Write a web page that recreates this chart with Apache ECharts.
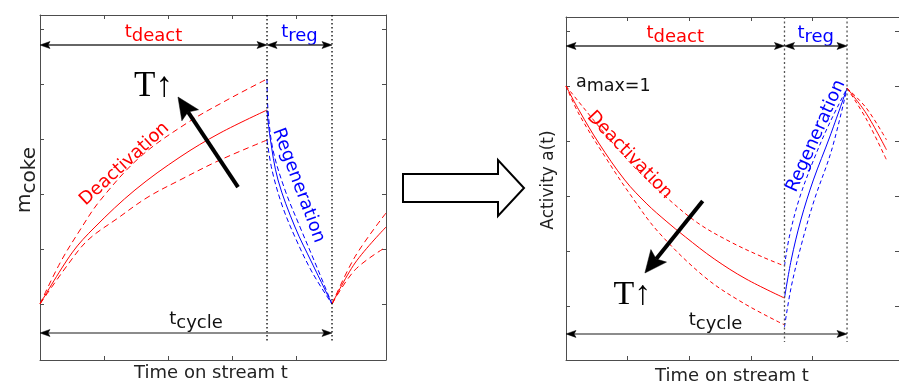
<!DOCTYPE html>
<html><head><meta charset="utf-8">
<script src="https://cdn.jsdelivr.net/npm/echarts@6/dist/echarts.min.js"></script>
<style>html,body{margin:0;padding:0;background:#fff}#c{width:899px;height:385px}</style>
</head><body><div id="c"></div>
<script>
// ---------------- data (time on stream t, value) ----------------
const tDeact = 3.547;   // end of deactivation
const tCycle = 4.5625;  // end of cycle
const xTicks = [1, 2, 3, 4];
const cokeTicks = [0, 1, 2, 3, 4, 5];
const actTicks = [0, 0.25, 0.5, 0.75, 1, 1.25];

// left panel: coke mass
const cokeDeactMid  = [[0,0],[0.5,0.93],[0.859,1.4],[1.484,2.073],[2.188,2.673],[2.813,3.109],[3.547,3.527]];
const cokeDeactHigh = [[0,0],[0.3125,0.745],[0.625,1.345],[0.9375,1.88],[1.5625,2.673],[2.297,3.291],[2.922,3.709],[3.547,4.091]];
const cokeDeactLow  = [[0,0],[0.4375,0.72],[0.75,1.164],[1.219,1.564],[1.6875,1.945],[2.1875,2.255],[2.8125,2.618],[3.547,2.982]];
const cokeRegMid    = [[3.547,3.527],[3.594,3.036],[3.719,2.255],[3.984,1.4],[4.25,0.745],[4.5625,0]];
const cokeRegHigh   = [[3.547,4.091],[3.5625,3.527],[3.641,2.8],[3.828,2.073],[4.0625,1.4],[4.3125,0.709],[4.5625,0]];
const cokeRegLow    = [[3.547,2.982],[3.625,2.436],[3.781,1.8],[3.984,1.218],[4.25,0.582],[4.5625,0]];
const cokeNextMid   = [[4.5625,0],[4.922,0.745],[5.406,1.4]];
const cokeNextHigh  = [[4.5625,0],[4.922,0.86],[5.406,1.655]];
const cokeNextLow   = [[4.5625,0],[4.922,0.62],[5.406,1.036]];

// right panel: activity
const actDeactMid  = [[0,1],[0.219,0.886],[0.531,0.741],[0.953,0.573],[1.313,0.464],[1.625,0.386],[1.938,0.314],[2.406,0.214],[2.922,0.123],[3.547,0.036]];
const actDeactHigh = [[0,1],[0.688,0.764],[1.156,0.618],[1.625,0.495],[2.141,0.377],[2.672,0.291],[3.188,0.223],[3.547,0.182]];
const actDeactLow  = [[0,1],[0.219,0.868],[0.688,0.655],[1.047,0.505],[1.5,0.336],[2.25,0.132],[2.875,0.014],[3.547,-0.086]];
const actRegMid    = [[3.547,0.036],[3.656,0.209],[3.8125,0.391],[4.016,0.573],[4.281,0.768],[4.5625,0.99]];
const actRegHigh   = [[3.547,0.182],[3.625,0.314],[3.781,0.482],[4.0,0.65],[4.25,0.814],[4.5625,0.99]];
const actRegLow    = [[3.547,-0.095],[3.656,0.086],[3.828,0.286],[4.031,0.482],[4.3125,0.709],[4.5625,0.99]];
const actNextMid   = [[4.5625,0.99],[4.875,0.875],[5.203,0.71]];
const actNextHigh  = [[4.5625,0.99],[4.875,0.9],[5.203,0.755]];
const actNextLow   = [[4.5625,0.99],[4.875,0.85],[5.203,0.664]];

// ---------------- chart ----------------
const RED = '#ff0000', BLUE = '#0000ff', AX = '#4d4d4d';
const FONT = 'DejaVu Sans';
const SERIF = 'Liberation Serif';
const chart = echarts.init(document.getElementById('c'), null, {renderer: 'canvas', width: 899, height: 385});

function xAx(g, pos) {
  return {type: 'value', gridIndex: g, position: pos, min: 0, max: 5.406,
    axisLine: {show: true, onZero: false, lineStyle: {color: AX, width: 1}},
    axisTick: {show: true, inside: true, length: 4, customValues: xTicks, lineStyle: {color: AX}},
    axisLabel: {show: false}, splitLine: {show: false}};
}
function yAx(g, pos, min, max, ticks) {
  return {type: 'value', gridIndex: g, position: pos, min: min, max: max,
    axisLine: {show: true, onZero: false, lineStyle: {color: AX, width: 1}},
    axisTick: {show: true, inside: true, length: 4, customValues: ticks, lineStyle: {color: AX}},
    axisLabel: {show: false}, splitLine: {show: false}};
}
function S(g, data, color, type, w) {
  return {type: 'line', xAxisIndex: g * 2, yAxisIndex: g * 2, data: data, symbol: 'none', showSymbol: false,
    smooth: 0.35, silent: true, animation: false,
    lineStyle: {color: color, width: w || 1, type: type}};
}
const dL = [6, 4], dR = [4, 3], dB = [5, 3];
chart.setOption({
  animation: false,
  backgroundColor: '#fff',
  grid: [
    {left: 40, top: 15, width: 346, height: 345, containLabel: false},
    {left: 566, top: 17, width: 346, height: 343, containLabel: false}
  ],
  xAxis: [xAx(0, 'bottom'), xAx(0, 'top'), xAx(1, 'bottom'), xAx(1, 'top')],
  yAxis: [yAx(0, 'left', -1.018, 5.255, cokeTicks), yAx(0, 'right', -1.018, 5.255, cokeTicks),
          yAx(1, 'left', -0.2455, 1.3136, actTicks), yAx(1, 'right', -0.2455, 1.3136, actTicks)],
  series: [
    S(0, cokeDeactMid, RED, 'solid'), S(0, cokeDeactHigh, RED, dL), S(0, cokeDeactLow, RED, dL),
    S(0, cokeRegMid, BLUE, 'solid'), S(0, cokeRegHigh, BLUE, dB), S(0, cokeRegLow, BLUE, dB),
    S(0, cokeNextMid, RED, 'solid'), S(0, cokeNextHigh, RED, dL), S(0, cokeNextLow, RED, dL),
    S(1, actDeactMid, RED, 'solid'), S(1, actDeactHigh, RED, dR), S(1, actDeactLow, RED, dR),
    S(1, actRegMid, BLUE, 'solid'), S(1, actRegHigh, BLUE, dR), S(1, actRegLow, BLUE, dR),
    S(1, actNextMid, RED, 'solid'), S(1, actNextHigh, RED, dR), S(1, actNextLow, RED, dR)
  ]
});

// ---------------- annotations ----------------
const mctx = document.createElement('canvas').getContext('2d');
function tw(txt, size, fam) { mctx.font = size + 'px "' + (fam || FONT) + '"'; return mctx.measureText(txt).width; }
function P(g, t, v) { return chart.convertToPixel({gridIndex: g}, [t, v]); }
function head(tip, tail, L, W, N, color) {
  const dx = tip[0] - tail[0], dy = tip[1] - tail[1], len = Math.hypot(dx, dy);
  const ux = dx / len, uy = dy / len, nx = -uy, ny = ux;
  const bx = tip[0] - ux * L, by = tip[1] - uy * L;
  return {type: 'polygon', silent: true, z: 100,
    shape: {points: [[tip[0], tip[1]], [bx + nx * W, by + ny * W], [tip[0] - ux * (L - N), tip[1] - uy * (L - N)], [bx - nx * W, by - ny * W]]},
    style: {fill: color, stroke: color, lineWidth: 0.5}};
}
function arrow(tail, tip, lw, color, L, W, N, hc) {
  const dx = tip[0] - tail[0], dy = tip[1] - tail[1], len = Math.hypot(dx, dy);
  const ex = tip[0] - dx / len * (L - N), ey = tip[1] - dy / len * (L - N);
  return [{type: 'line', silent: true, z: 99, shape: {x1: tail[0], y1: tail[1], x2: ex, y2: ey}, style: {stroke: color, lineWidth: lw}},
          head(tip, tail, L, W, N, hc || color)];
}
function dbl(a, b, lc) {
  const m = [(a[0] + b[0]) / 2, (a[1] + b[1]) / 2];
  const out = [{type: 'line', silent: true, z: 99, shape: {x1: a[0] + 8, y1: a[1], x2: b[0] - 8, y2: b[1]}, style: {stroke: lc, lineWidth: 1.4}}];
  out.push(head(a, m, 10, 3.5, 2, '#000'), head(b, m, 10, 3.5, 2, '#000'));
  return out;
}
function tstyle(s, x, y, size, color, fam, align) {
  return {text: s, x: x, y: y, fill: color, fontSize: size, fontFamily: fam || FONT, align: align || 'center', verticalAlign: 'middle'};
}
function txt(x, y, s, size, color, rot, fam, align) {
  return {type: 'text', x: x, y: y, rotation: rot || 0, silent: true, z: 110, style: tstyle(s, 0, 0, size, color, fam, align)};
}
function sub(x, y, main, subs, size, color, drop, rot, align) {
  const w1 = tw(main, size), w2 = tw(subs, size), tot = w1 + w2;
  const x0 = align === 'left' ? 0 : -tot / 2;
  return {type: 'group', x: x, y: y, rotation: rot || 0, silent: true, z: 110, children: [
    {type: 'text', style: tstyle(main, x0, 0, size, color, FONT, 'left')},
    {type: 'text', style: tstyle(subs, x0 + w1, drop, size, color, FONT, 'left')}
  ]};
}
function vline(g, t, vTop, vBot, color, dash) {
  const a = P(g, t, vTop), b = P(g, t, vBot);
  return {type: 'line', silent: true, z: 98, shape: {x1: a[0], y1: a[1], x2: b[0], y2: b[1]}, style: {stroke: color, lineWidth: 1.3, lineDash: dash}};
}

let E = [];
// ----- left panel -----
{
  const yA = 4.709, yC = -0.527;
  const p0 = P(0, 0, yA), p1 = P(0, tDeact, yA), p2 = P(0, tCycle, yA);
  const c0 = P(0, 0, yC), c1 = P(0, tCycle, yC);
  E.push(vline(0, tDeact, 5.255, -0.691, '#000', [1.5, 2.5]), vline(0, tCycle, 5.255, -0.691, '#000', [1.5, 2.5]));
  E = E.concat(dbl(p0, p1, '#333'), dbl(p1, p2, '#333'), dbl(c0, c1, '#666'));
  E.push(sub((p0[0] + p1[0]) / 2, p0[1] - 13, 't', 'deact', 18, RED, 4));
  E.push(sub((p1[0] + p2[0]) / 2, p0[1] - 13, 't', 'reg', 18, BLUE, 4));
  E.push(sub((c0[0] + c1[0]) / 2 + 10, c0[1] - 14, 't', 'cycle', 18, '#111', 4));
  E = E.concat(arrow(P(0, 3.094, 2.127), P(0, 2.156, 3.764), 4, '#000', 22, 10, 4));
  const tp = P(0, 1.773, 3.945); E.push(txt(tp[0], tp[1], 'T↑', 35, '#000', 0, SERIF));
  const dp = P(0, 1.32, 2.545); E.push(txt(dp[0], dp[1], 'Deactivation', 18, RED, 0.742));
  const rp = P(0, 4.039, 2.155); E.push(txt(rp[0], rp[1], 'Regeneration', 18, BLUE, -1.213));
  E.push(sub(25, 180, 'm', 'coke', 20, '#222', 5, Math.PI / 2));
  E.push(txt(211, 373.5, 'Time on stream t', 18, '#222'));
}
// ----- right panel -----
{
  const yA = 1.1818, yC = -0.127;
  const p0 = P(1, 0, yA), p1 = P(1, tDeact, yA), p2 = P(1, tCycle, yA);
  const c0 = P(1, 0, yC), c1 = P(1, tCycle, yC);
  E.push(vline(1, tDeact, 1.3136, -0.164, '#555', [2, 2.5]), vline(1, tCycle, 1.3136, -0.164, '#555', [2, 2.5]));
  E = E.concat(dbl(p0, p1, '#333'), dbl(p1, p2, '#333'), dbl(c0, c1, '#666'));
  E.push(sub((p0[0] + p1[0]) / 2, p0[1] - 12.5, 't', 'deact', 18, RED, 4));
  E.push(sub((p1[0] + p2[0]) / 2, p0[1] - 12.5, 't', 'reg', 18, BLUE, 4));
  E.push(sub((c0[0] + c1[0]) / 2 + 9, c0[1] - 14, 't', 'cycle', 18, '#111', 4));
  E = E.concat(arrow(P(1, 2.219, 0.477), P(1, 1.281, 0.15), 4, '#000', 22, 10, 4));
  const tp = P(1, 1.078, 0.05); E.push(txt(tp[0], tp[1], 'T↑', 34, '#000', 0, SERIF));
  const dp = P(1, 1.031, 0.686); E.push(txt(dp[0], dp[1], 'Deactivation', 18, RED, -0.803));
  const rp = P(1, 4.06, 0.773); E.push(txt(rp[0], rp[1], 'Regeneration', 18, BLUE, 1.152));
  const ap = P(1, 0, 1); E.push(sub(ap[0] + 10, ap[1] - 4, 'a', 'max=1', 17.5, '#111', 4.5, 0, 'left'));
  E.push(txt(549, 180, 'Activity a(t)', 17, '#222', Math.PI / 2));
  E.push(txt(732, 376.5, 'Time on stream t', 18, '#222'));
}
// hollow transition arrow between panels
E.push({type: 'polygon', silent: true, z: 90,
  shape: {points: [[403, 174], [498, 174], [498, 160], [524, 188], [498, 216], [498, 202], [403, 202]]},
  style: {fill: '#fff', stroke: '#000', lineWidth: 2, lineJoin: 'miter'}});

chart.setOption({graphic: {elements: E}});
</script>
</body></html>
